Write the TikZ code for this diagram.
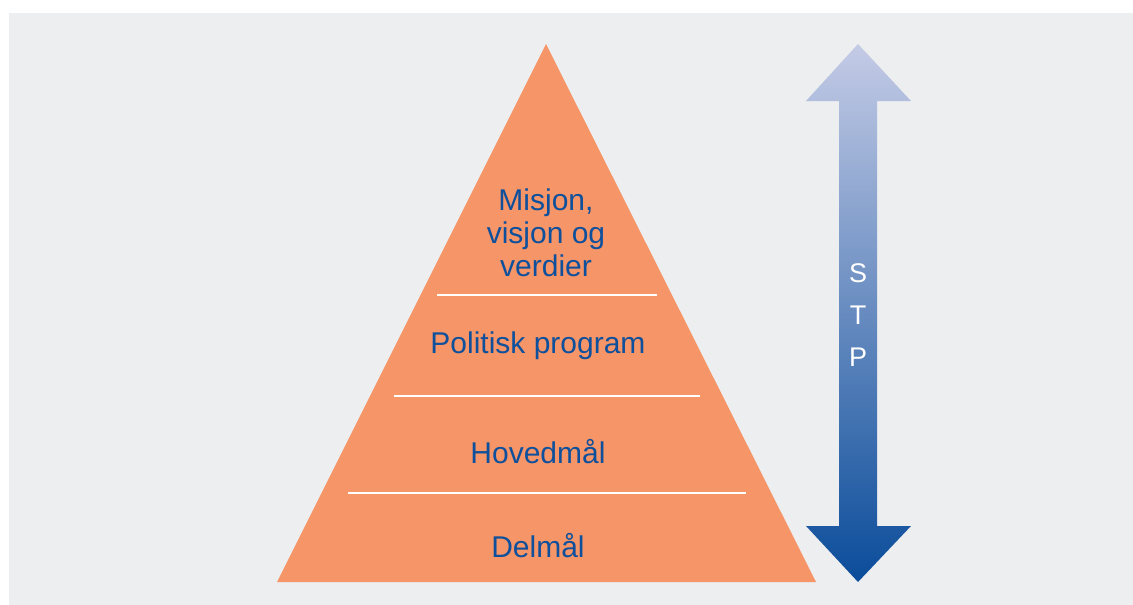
\documentclass[tikz,border=0pt]{standalone}
\usepackage{fontspec}
\setmainfont{Liberation Sans}
\usetikzlibrary{positioning}
\definecolor{bggrey}{RGB}{237,238,240}
\definecolor{pyrorange}{RGB}{246,149,104}
\definecolor{txtblue}{RGB}{14,80,155}
\definecolor{arrowtop}{RGB}{196,203,230}
\definecolor{arrowbot}{RGB}{10,76,154}
\tikzstyle{level}=[text=txtblue, font=\fontsize{30}{33}\selectfont, align=center, inner sep=0pt]
\tikzstyle{divider}=[draw=white, line width=2.5pt]
\tikzstyle{stp}=[text=white, font=\fontsize{27}{30}\selectfont, inner sep=0pt]

\begin{document}
\begin{tikzpicture}[x=1pt, y=-1pt]
          \useasboundingbox (0,0) rectangle (1133,605);
          \fill[bggrey] (9,13) rectangle (1133,605);
          % pyramid
          \coordinate (apex) at (546,44);
          \coordinate (bl) at (277,582);
          \coordinate (br) at (816,582);
          \fill[pyrorange] (apex) -- (br) -- (bl) -- cycle;
          \coordinate (d1l) at (437,295); \coordinate (d1r) at (657,295);
          \coordinate (d2l) at (394,396); \coordinate (d2r) at (700,396);
          \coordinate (d3l) at (348,493); \coordinate (d3r) at (746,493);
          \draw[divider] (d1l) -- (d1r);
          \draw[divider] (d2l) -- (d2r);
          \draw[divider] (d3l) -- (d3r);
          \node[level] (mvv) at (546,233) {Misjon,\\visjon og\\verdier};
          \node[level] (pol) at (538,346) {Politisk program};
          \node[level] (hov) at (538,452) {Hovedmål};
          \node[level] (del) at (538,546) {Delmål};
          % double arrow
          \shade[top color=arrowtop, bottom color=arrowbot]
                (858,44) -- (911,101) -- (877,101) -- (877,526) -- (911,526)
                -- (858,582) -- (806,526) -- (839,526) -- (839,101) -- (806,101) -- cycle;
          \node[stp] (s) at (858,273) {S};
          \node[stp] (t) [below=23pt of s] {T};
          \node[stp] (p) [below=23pt of t] {P};
        \end{tikzpicture}
\end{document}
